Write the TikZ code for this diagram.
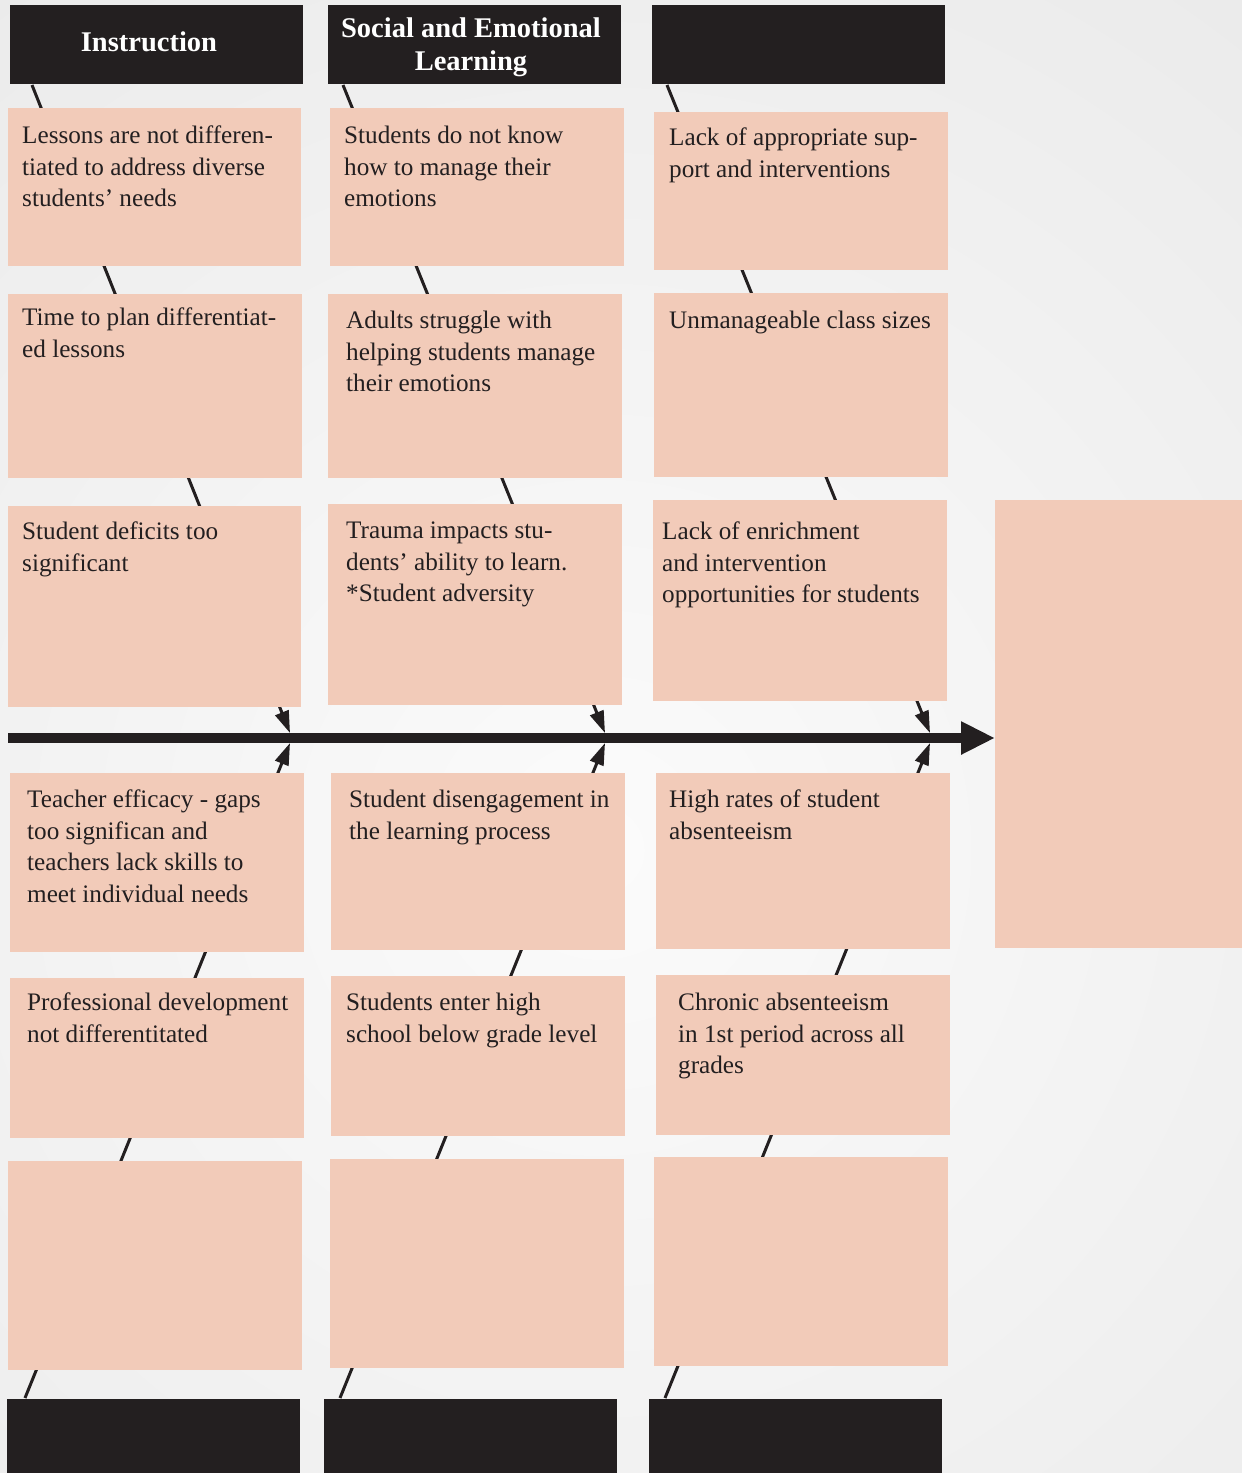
\documentclass[tikz,border=0pt]{standalone}
\usepackage{fontspec}
\setmainfont{Liberation Serif}
\usetikzlibrary{arrows.meta}
\definecolor{dark}{HTML}{231F20}
\definecolor{salmon}{HTML}{F2CBB9}
\begin{document}
\begin{tikzpicture}[x=1pt,y=-1pt,
  hdr/.style={fill=dark, inner sep=0, anchor=north west, minimum width=293pt, minimum height=79pt},
  htxt/.style={inner sep=0, text=white, align=center, font=\fontsize{28.5}{33}\selectfont\bfseries},
  box/.style={fill=salmon, inner sep=0, anchor=north west},
  txt/.style={anchor=north west, inner sep=0, align=left, text=dark, font=\fontsize{25.2}{31.5}\selectfont},
  bone/.style={line width=3pt, draw=dark, -{Triangle[length=22pt,width=14pt]}},
  spine/.style={line width=9.5pt, draw=dark, -{Triangle[length=34pt,width=31pt]}}]
\useasboundingbox (0,0) rectangle (1242,1473);
\begin{scope}
\clip (0,0) rectangle (1242,1473);
\shade[inner color=white!98.5!black, outer color=white!91!black] (600,850) circle (1250);
\end{scope}
% headers
\node[hdr] (h1) at (10,5) {};
\node[hdr] (h2) at (328,5) {};
\node[hdr] (h3) at (652,5) {};
\node[htxt] (h1t) at (149,42) {Instruction};
\node[htxt] (h2t) at (471,47) {Social and Emotional\\Learning};
\node[hdr, minimum height=74pt] (f1) at (7,1399) {};
\node[hdr, minimum height=74pt] (f2) at (324,1399) {};
\node[hdr, minimum height=74pt] (f3) at (649,1399) {};
% bone coordinates
\coordinate (t1) at (32,85);  \coordinate (t2) at (343,85);  \coordinate (t3) at (667,85);
\coordinate (u1) at (25,1398); \coordinate (u2) at (340,1398); \coordinate (u3) at (665,1398);
\coordinate (a1) at (290,733); \coordinate (a2) at (605,733); \coordinate (a3) at (930,733);
\coordinate (d1) at (290,743); \coordinate (d2) at (605,743); \coordinate (d3) at (930,743);
\coordinate (s0) at (8,738); \coordinate (s4) at (995,738);
\draw[bone] (t1) -- (a1);
\draw[bone] (t2) -- (a2);
\draw[bone] (t3) -- (a3);
\draw[bone] (u1) -- (d1);
\draw[bone] (u2) -- (d2);
\draw[bone] (u3) -- (d3);
% boxes top
\node[box, minimum width=293pt, minimum height=158pt] (b11) at (8,108) {};
\node[box, minimum width=294pt, minimum height=184pt] (b12) at (8,294) {};
\node[box, minimum width=293pt, minimum height=201pt] (b13) at (8,506) {};
\node[box, minimum width=294pt, minimum height=158pt] (b21) at (330,108) {};
\node[box, minimum width=294pt, minimum height=184pt] (b22) at (328,294) {};
\node[box, minimum width=294pt, minimum height=201pt] (b23) at (328,504) {};
\node[box, minimum width=294pt, minimum height=158pt] (b31) at (654,112) {};
\node[box, minimum width=294pt, minimum height=184pt] (b32) at (654,293) {};
\node[box, minimum width=294pt, minimum height=201pt] (b33) at (653,500) {};
% boxes bottom
\node[box, minimum width=294pt, minimum height=179pt] (c11) at (10,773) {};
\node[box, minimum width=294pt, minimum height=160pt] (c12) at (10,978) {};
\node[box, minimum width=294pt, minimum height=209pt] (c13) at (8,1161) {};
\node[box, minimum width=294pt, minimum height=177pt] (c21) at (331,773) {};
\node[box, minimum width=294pt, minimum height=160pt] (c22) at (331,976) {};
\node[box, minimum width=294pt, minimum height=209pt] (c23) at (330,1159) {};
\node[box, minimum width=294pt, minimum height=176pt] (c31) at (656,773) {};
\node[box, minimum width=294pt, minimum height=160pt] (c32) at (656,975) {};
\node[box, minimum width=294pt, minimum height=209pt] (c33) at (654,1157) {};
\node[box, minimum width=247pt, minimum height=448pt] (goal) at (995,500) {};
% spine
\draw[spine] (s0) -- (s4);
% texts
\node[txt] (x11) at (22,126) {Lessons are not differen-\\tiated to address diverse\\students’ needs};
\node[txt] (x12) at (22,308) {Time to plan differentiat-\\ed lessons};
\node[txt] (x13) at (22,522) {Student deficits too\\significant};
\node[txt] (x21) at (344,126) {Students do not know\\how to manage their\\emotions};
\node[txt] (x22) at (346,311) {Adults struggle with\\helping students manage\\their emotions};
\node[txt] (x23) at (346,522) {Trauma impacts stu-\\dents’ ability to learn.\\*Student adversity};
\node[txt] (x31) at (669,128) {Lack of appropriate sup-\\port and interventions};
\node[txt] (x32) at (669,311) {Unmanageable class sizes};
\node[txt] (x33) at (662,522) {Lack of enrichment\\and intervention\\opportunities for students};
\node[txt] (y11) at (27,790) {Teacher efficacy - gaps\\too significan and\\teachers lack skills to\\meet individual needs};
\node[txt] (y12) at (27,993) {Professional development\\not differentitated};
\node[txt] (y21) at (349,790) {Student disengagement in\\the learning process};
\node[txt] (y22) at (346,993) {Students enter high\\school below grade level};
\node[txt] (y31) at (669,790) {High rates of student\\absenteeism};
\node[txt] (y32) at (678,993) {Chronic absenteeism\\in 1st period across all\\grades};
\end{tikzpicture}
\end{document}
